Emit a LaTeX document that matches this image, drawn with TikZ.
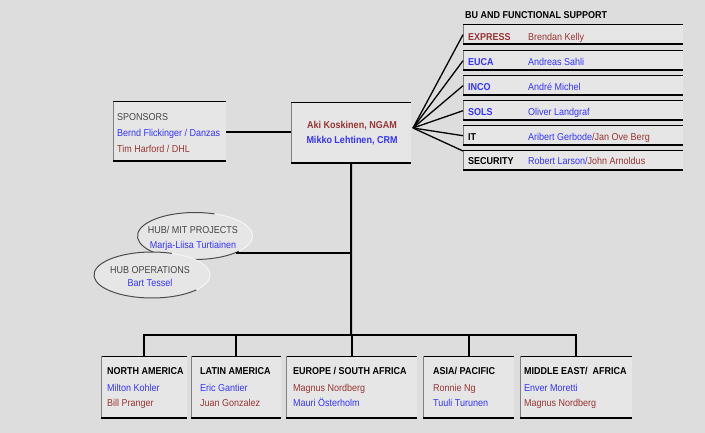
\documentclass[tikz,border=0pt]{standalone}
\usepackage{fontspec}
\setmainfont{Liberation Sans}[FakeStretch=0.9]
\usetikzlibrary{shapes.geometric}
\definecolor{bg}{HTML}{DDDDDD}
\definecolor{boxfill}{HTML}{E6E6E6}
\definecolor{dred}{HTML}{993333}
\definecolor{lblue}{HTML}{3333FF}
\definecolor{tgray}{HTML}{444444}
\begin{document}
\begin{tikzpicture}[x=1pt,y=-1pt,
 every node/.style={font=\fontsize{10}{12}\selectfont},
 topedge/.style={draw=black, line width=1pt},
 leftedge/.style={draw=gray, line width=0.8pt},
 botedge/.style={draw=black, line width=2pt},
 box/.style={fill=boxfill, inner sep=0pt, anchor=north west, append after command={
   (\tikzlastnode.north west) edge[topedge] (\tikzlastnode.north east)
   (\tikzlastnode.north west) edge[leftedge] (\tikzlastnode.south west)
   (\tikzlastnode.south west) edge[botedge] (\tikzlastnode.south east)}},
 txt/.style={anchor=base west, inner sep=0pt},
 ctxt/.style={anchor=base, inner sep=0pt},
 conn/.style={draw=black, line width=2pt},
 fanline/.style={draw=black, line width=1.3pt},
 hub/.style={ellipse, fill=boxfill, minimum width=115pt, minimum height=47pt, inner sep=0pt},
 hubdark/.style={draw=black!70, line width=1pt},
 hublight/.style={draw=white!70!bg, line width=1pt}
]
\fill[bg] (0,0) rectangle (705,433);
\useasboundingbox (0,0) rectangle (705,433);

% sponsors
\node[box, minimum width=113pt, minimum height=59pt] (sp) at (113,102) {};
\node[txt, text=tgray] (sp1) at (117,121) {SPONSORS};
\node[txt, text=lblue] (sp2) at (117,137) {Bernd Flickinger / Danzas};
\node[txt, text=dred] (sp3) at (117,153) {Tim Harford / DHL};

% center
\node[box, minimum width=120pt, minimum height=60pt] (ctr) at (291,103) {};
\node[ctxt, text=dred, font=\fontsize{10}{12}\selectfont\bfseries] (c1) at (352,129) {Aki Koskinen, NGAM};
\node[ctxt, text=lblue, font=\fontsize{10}{12}\selectfont\bfseries] (c2) at (352,144) {Mikko Lehtinen, CRM};

\draw[conn] (sp.east) -- (sp.east -| ctr.west);

% support
\node[txt, font=\fontsize{10}{12}\selectfont\bfseries] (hdr) at (465,19) {BU AND FUNCTIONAL SUPPORT};
\node[box, minimum width=220pt, minimum height=19pt] (ex) at (463,25) {};
\node[box, minimum width=220pt, minimum height=19pt] (eu) at (463,51) {};
\node[box, minimum width=220pt, minimum height=19pt] (in) at (463,76) {};
\node[box, minimum width=220pt, minimum height=19pt] (so) at (463,101) {};
\node[box, minimum width=220pt, minimum height=19pt] (it) at (463,126) {};
\node[box, minimum width=220pt, minimum height=19pt] (se) at (463,151) {};

\node[txt, text=dred, font=\fontsize{10}{12}\selectfont\bfseries] (exl) at (468,41) {EXPRESS};
\node[txt, text=dred] (exn) at (528,41) {Brendan Kelly};
\node[txt, text=lblue, font=\fontsize{10}{12}\selectfont\bfseries] (eul) at (468,66) {EUCA};
\node[txt, text=lblue] (eun) at (528,66) {Andreas Sahli};
\node[txt, text=lblue, font=\fontsize{10}{12}\selectfont\bfseries] (inl) at (468,91) {INCO};
\node[txt, text=lblue] (inn) at (528,91) {André Michel};
\node[txt, text=lblue, font=\fontsize{10}{12}\selectfont\bfseries] (sol) at (468,116) {SOLS};
\node[txt, text=lblue] (son) at (528,116) {Oliver Landgraf};
\node[txt, font=\fontsize{10}{12}\selectfont\bfseries] (itl) at (468,141) {IT};
\node[txt] (itn) at (528,141) {\textcolor{lblue}{Aribert Gerbode}\textcolor{dred}{/Jan Ove Berg}};
\node[txt, font=\fontsize{10}{12}\selectfont\bfseries] (sel) at (468,165) {SECURITY};
\node[txt] (sen) at (528,165) {\textcolor{lblue}{Robert Larson/}\textcolor{dred}{John Arnoldus}};

\coordinate (fan) at (413,128);
\draw[fanline] (fan) -- (ex.west);
\draw[fanline] (fan) -- (eu.west);
\draw[fanline] (fan) -- (in.west);
\draw[fanline] (fan) -- (so.west);
\draw[fanline] (fan) -- (it.west);
\draw[fanline] (fan) -- (se.north west);

% hubs
\node[hub] (hub1) at (195,236) {};
\draw[hubdark] ([shift={(40:57.5 and 23.5)}]hub1.center) arc[start angle=40, end angle=290, x radius=57.5, y radius=23.5];
\draw[hublight] ([shift={(-70:57.5 and 23.5)}]hub1.center) arc[start angle=-70, end angle=40, x radius=57.5, y radius=23.5];
\node[ctxt, text=tgray] (h1a) at (193,234) {HUB/ MIT PROJECTS};
\node[ctxt, text=lblue] (h1b) at (193,249) {Marja-Liisa Turtiainen};
\node[hub, minimum width=116pt, minimum height=46pt] (hub2) at (152,275) {};
\draw[hubdark] ([shift={(40:58 and 23)}]hub2.center) arc[start angle=40, end angle=290, x radius=58, y radius=23];
\draw[hublight] ([shift={(-70:58 and 23)}]hub2.center) arc[start angle=-70, end angle=40, x radius=58, y radius=23];
\node[ctxt, text=tgray] (h2a) at (150,273) {HUB OPERATIONS};
\node[ctxt, text=lblue] (h2b) at (150,287) {Bart Tessel};

% bottom boxes
\node[box, minimum width=86pt, minimum height=62pt] (na) at (101,356) {};
\node[box, minimum width=90pt, minimum height=62pt] (la) at (191,356) {};
\node[box, minimum width=131pt, minimum height=62pt] (euro) at (286,356) {};
\node[box, minimum width=91pt, minimum height=62pt] (ap) at (423,356) {};
\node[box, minimum width=112pt, minimum height=62pt] (me) at (520,356) {};

\node[txt, font=\fontsize{10}{12}\selectfont\bfseries] (na1) at (107,374) {NORTH AMERICA};
\node[txt, text=lblue] (na2) at (107,391) {Milton Kohler};
\node[txt, text=dred] (na3) at (107,406) {Bill Pranger};
\node[txt, font=\fontsize{10}{12}\selectfont\bfseries] (la1) at (200,374) {LATIN AMERICA};
\node[txt, text=lblue] (la2) at (200,391) {Eric Gantier};
\node[txt, text=dred] (la3) at (200,406) {Juan Gonzalez};
\node[txt, font=\fontsize{10}{12}\selectfont\bfseries] (eu1) at (293,374) {EUROPE / SOUTH AFRICA};
\node[txt, text=dred] (eu2) at (293,391) {Magnus Nordberg};
\node[txt, text=lblue] (eu3) at (293,406) {Mauri Österholm};
\node[txt, font=\fontsize{10}{12}\selectfont\bfseries] (ap1) at (433,374) {ASIA/ PACIFIC};
\node[txt, text=dred] (ap2) at (433,391) {Ronnie Ng};
\node[txt, text=lblue] (ap3) at (433,406) {Tuuli Turunen};
\node[txt, font=\fontsize{10}{12}\selectfont\bfseries] (me1) at (524,374) {MIDDLE EAST/ \ AFRICA};
\node[txt, text=lblue] (me2) at (524,391) {Enver Moretti};
\node[txt, text=dred] (me3) at (524,406) {Magnus Nordberg};

% connectors
\coordinate (bus) at (351,335);
\draw[conn] (ctr.south) -- (bus);
\draw[conn] (hub1.south east) -- (hub1.south east -| bus);
\draw[conn] (na.north) |- (bus) -| (me.north);
\draw[conn] (la.north) -- (la.north |- bus);
\draw[conn] (euro.north) -- (euro.north |- bus);
\draw[conn] (ap.north) -- (ap.north |- bus);
\end{tikzpicture}
\end{document}
